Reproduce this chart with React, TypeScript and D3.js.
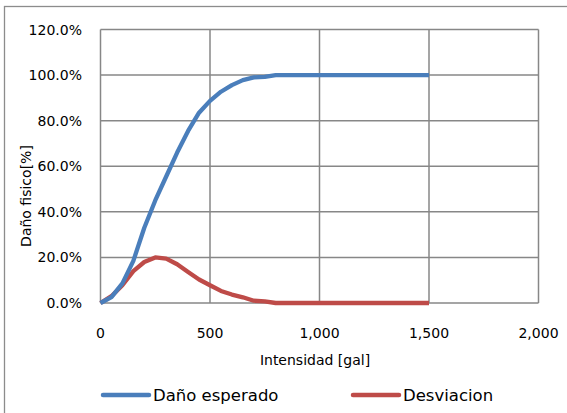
import React, { useEffect, useRef } from 'react';
import * as d3 from 'd3';

const intensidad = [
  0, 50, 100, 150, 200, 250, 300, 350, 400, 450, 500, 550, 600, 650, 700, 750,
  800, 850, 900, 950, 1000, 1050, 1100, 1150, 1200, 1250, 1300, 1350, 1400, 1450, 1500,
];
const danoEsperado = [
  0, 2.6, 8.6, 18.5, 33, 45, 55.5, 66, 75.5, 83.5, 88.7, 92.7, 95.6, 97.8, 99, 99.2,
  100, 100, 100, 100, 100, 100, 100, 100, 100, 100, 100, 100, 100, 100, 100,
];
const desviacion = [
  0, 3, 7.8, 14, 18, 20, 19.5, 17, 13.6, 10.3, 7.8, 5.3, 3.7, 2.5, 1.0, 0.7,
  0, 0, 0, 0, 0, 0, 0, 0, 0, 0, 0, 0, 0, 0, 0,
];
const xTicks = [0, 500, 1000, 1500, 2000];
const yTicks = [0, 20, 40, 60, 80, 100, 120];

const series = [
  { name: 'Daño esperado', values: danoEsperado, color: '#4A7EBB' },
  { name: 'Desviacion', values: desviacion, color: '#BE4B48' },
];

const App: React.FC = () => {
  const svgRef = useRef<SVGSVGElement>(null);

  useEffect(() => {
    if (!svgRef.current) return;
    const svg = d3.select(svgRef.current);
    svg.selectAll('*').remove();

    const width = 567;
    const height = 413;
    const margin = { top: 29.5, right: 28.5, bottom: 110, left: 100.5 };
    const font = '"DejaVu Sans", sans-serif';

    svg.append('rect').attr('width', width).attr('height', height).attr('fill', '#fff');
    // outer chart border
    svg
      .append('rect')
      .attr('x', 4.5)
      .attr('y', 6.5)
      .attr('width', 600)
      .attr('height', 420)
      .attr('fill', 'none')
      .attr('stroke', '#8c8c8c')
      .attr('stroke-width', 1.3);

    const x = d3
      .scaleLinear()
      .domain([0, 2000])
      .range([margin.left, width - margin.right]);
    const y = d3
      .scaleLinear()
      .domain([0, 120])
      .range([height - margin.bottom, margin.top]);

    const grid = svg.append('g').attr('stroke', '#878787').attr('stroke-width', 1.5);
    grid
      .selectAll('line.h')
      .data(yTicks)
      .enter()
      .append('line')
      .attr('x1', x(0))
      .attr('x2', x(2000))
      .attr('y1', (d) => y(d))
      .attr('y2', (d) => y(d));
    grid
      .selectAll('line.v')
      .data(xTicks)
      .enter()
      .append('line')
      .attr('x1', (d) => x(d))
      .attr('x2', (d) => x(d))
      .attr('y1', y(0))
      .attr('y2', y(120));

    svg
      .append('g')
      .selectAll('text')
      .data(yTicks)
      .enter()
      .append('text')
      .attr('x', 82)
      .attr('y', (d) => y(d))
      .attr('dy', '0.36em')
      .attr('text-anchor', 'end')
      .attr('font-family', font)
      .attr('font-size', 14)
      .text((d) => d.toFixed(1) + '%');

    svg
      .append('g')
      .selectAll('text')
      .data(xTicks)
      .enter()
      .append('text')
      .attr('x', (d) => x(d))
      .attr('y', 333)
      .attr('dy', '0.36em')
      .attr('text-anchor', 'middle')
      .attr('font-family', font)
      .attr('font-size', 14)
      .text((d) => d3.format(',')(d));

    svg
      .append('text')
      .attr('x', 315)
      .attr('y', 360)
      .attr('dy', '0.36em')
      .attr('text-anchor', 'middle')
      .attr('font-family', font)
      .attr('font-size', 14)
      .text('Intensidad [gal]');

    svg
      .append('text')
      .attr('transform', 'translate(26,196) rotate(-90)')
      .attr('dy', '0.36em')
      .attr('text-anchor', 'middle')
      .attr('font-family', font)
      .attr('font-size', 14)
      .text('Daño fisico[%]');

    const line = d3
      .line<number>()
      .x((_, i) => x(intensidad[i]))
      .y((d) => y(d));

    series
      .slice()
      .reverse()
      .forEach((s) => {
        svg
          .append('path')
          .attr('d', line(s.values))
          .attr('fill', 'none')
          .attr('stroke', s.color)
          .attr('stroke-width', 4.3)
          .attr('stroke-linejoin', 'round');
      });

    const legendX = [103, 353];
    series.forEach((s, i) => {
      const g = svg.append('g').attr('transform', `translate(${legendX[i]},395)`);
      g.append('line')
        .attr('x1', 0)
        .attr('x2', 46)
        .attr('stroke', s.color)
        .attr('stroke-width', 4.5)
        .attr('stroke-linecap', 'round');
      g.append('text')
        .attr('x', 50)
        .attr('dy', '0.36em')
        .attr('font-family', font)
        .attr('font-size', 16.5)
        .text(s.name);
    });
  }, []);

  return (
    <svg
      ref={svgRef}
      width={567}
      height={413}
      style={{ position: 'absolute', left: 0, top: 0, display: 'block' }}
    ></svg>
  );
};

export default App;
